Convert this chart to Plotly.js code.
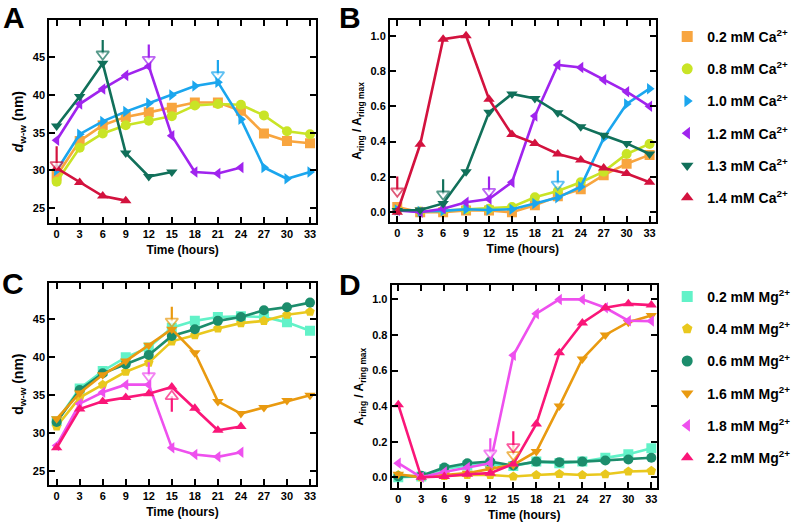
<!DOCTYPE html>
<html>
<head>
<meta charset="utf-8">
<script src="https://cdn.plot.ly/plotly-3.0.1.min.js"></script>
<style>html,body{margin:0;padding:0;background:#fff;}#chart{width:800px;height:526px;}</style>
</head>
<body>
<div id="chart"></div>
<script>
// ---------- data ----------
const hours = [0,3,6,9,12,15,18,21,24,27,30,33];
const tickHours = [0,3,6,9,12,15,18,21,24,27,30,33];

const caNames = ['0.2 mM Ca<sup>2+</sup>','0.8 mM Ca<sup>2+</sup>','1.0 mM Ca<sup>2+</sup>','1.2 mM Ca<sup>2+</sup>','1.3 mM Ca<sup>2+</sup>','1.4 mM Ca<sup>2+</sup>'];
const mgNames = ['0.2 mM Mg<sup>2+</sup>','0.4 mM Mg<sup>2+</sup>','0.6 mM Mg<sup>2+</sup>','1.6 mM Mg<sup>2+</sup>','1.8 mM Mg<sup>2+</sup>','2.2 mM Mg<sup>2+</sup>'];

// Panel A: d_w-w (nm), Ca2+
const caA_02 = [29.3,33.9,36.0,37.1,37.7,38.3,39.0,39.0,37.9,34.9,33.9,33.6];
const caA_08 = [28.5,33.0,34.9,36.0,36.6,37.2,38.6,38.8,38.7,37.3,35.2,34.8];
const caA_10 = [30.0,34.8,36.5,37.8,38.9,40.0,41.2,41.7,36.8,30.4,28.9,29.8];
const caA_12 = [34.0,38.8,40.8,42.6,43.8,34.6,29.8,29.6,30.4];
const caA_13 = [35.9,39.8,44.2,32.3,29.2,29.8];
const caA_14 = [30.3,28.4,26.6,26.0];

// Panel B: A_ring / A_ring max, Ca2+
const caB_02 = [0.03,0.0,0.0,0.01,0.01,0.0,0.04,0.09,0.13,0.21,0.275,0.325];
const caB_08 = [0.013,0.004,0.01,0.017,0.02,0.03,0.085,0.12,0.17,0.23,0.33,0.387];
const caB_10 = [0.013,0.004,0.008,0.017,0.013,0.017,0.05,0.083,0.145,0.42,0.613,0.70];
const caB_12 = [0.01,0.0,0.02,0.057,0.075,0.17,0.545,0.834,0.82,0.75,0.683,0.60];
const caB_13 = [0.01,0.013,0.05,0.23,0.566,0.67,0.645,0.564,0.485,0.436,0.39,0.33];
const caB_14 = [0.0,0.385,0.98,1.0,0.64,0.44,0.39,0.33,0.296,0.25,0.22,0.17];

// Panel C: d_w-w (nm), Mg2+
const mgC_02 = [31.6,35.9,38.2,40.0,41.3,43.9,44.8,45.3,45.4,45.3,44.6,43.5];
const mgC_04 = [30.9,34.7,36.4,38.1,39.3,42.1,42.9,43.8,44.5,44.8,45.6,46.0];
const mgC_06 = [31.5,35.7,37.9,39.1,40.3,42.8,43.7,44.8,45.3,46.2,46.6,47.2];
const mgC_16 = [31.9,35.3,37.7,39.5,41.6,43.7,40.6,34.2,32.6,33.4,34.3,35.0];
const mgC_18 = [28.4,33.9,35.4,36.4,36.4,28.1,27.2,26.9,27.5];
const mgC_22 = [28.1,33.2,34.2,34.7,35.2,36.1,33.3,30.4,30.9];

// Panel D: A_ring / A_ring max, Mg2+
const mgD_02 = [0.0,0.004,0.047,0.066,0.073,0.064,0.088,0.079,0.088,0.11,0.13,0.163];
const mgD_04 = [0.013,0.0,0.008,0.013,0.013,0.004,0.013,0.019,0.013,0.017,0.032,0.036];
const mgD_06 = [0.004,0.008,0.055,0.079,0.088,0.066,0.088,0.085,0.088,0.094,0.10,0.11];
const mgD_16 = [0.017,0.0,0.013,0.023,0.047,0.07,0.145,0.40,0.665,0.80,0.872,0.91];
const mgD_18 = [0.079,0.0,0.03,0.055,0.079,0.686,0.92,1.0,1.0,0.953,0.88,0.878];
const mgD_22 = [0.408,0.0,0.004,0.017,0.023,0.075,0.30,0.70,0.868,0.953,0.975,0.968];

// Arrows (x, shaft end, head centre, colour index, direction)
const arrA_x = [0,6,12,21];   const arrA_end = [33.2,47.3,46.7,44.65]; const arrA_head = [30.75,45.4,44.7,42.65]; const arrA_c = [5,4,3,2];
const arrB_x = [0,6,12,21];   const arrB_end = [0.202,0.187,0.202,0.236]; const arrB_head = [0.119,0.102,0.117,0.158]; const arrB_c = [5,4,3,2];
const arrC_x = [15,12,15];    const arrC_end = [46.67,39.34,32.85]; const arrC_head = [44.74,37.54,34.87]; const arrC_c = [3,4,5]; const arrC_dir = ['down','down','up'];
const arrD_x = [15,12,15];    const arrD_end = [0.19,0.22,0.258]; const arrD_head = [0.126,0.135,0.171]; const arrD_c = [3,4,5];

// ---------- styles ----------
const caColors = ['#F8A53F','#C9E426','#1BA6EE','#A024EE','#11705A','#D3123E'];
const caSymbols = ['square','circle','triangle-right','triangle-left','triangle-down','triangle-up'];
const mgColors = ['#62F2C8','#E9C81E','#1C8D6C','#E99A10','#EE50EE','#FA1678'];
const mgSymbols = ['square','pentagon','circle','triangle-down','triangle-left','triangle-up'];

const FONT = 'Liberation Sans, Arial, Helvetica, sans-serif';
const traces = [];

function series(xs, ys, color, symbol, xa, ya) {
  traces.push({
    x: xs.slice(0, ys.length), y: ys, xaxis: xa, yaxis: ya,
    mode: 'lines+markers', showlegend: false, hoverinfo: 'skip',
    line: {color: color, width: 2.6},
    marker: {color: color, symbol: symbol, size: 10, line: {width: 0}}
  });
}
function legendItem(name, color, symbol, leg) {
  traces.push({
    x: [null], y: [null], name: name, mode: 'markers', legend: leg,
    legendgroup: name, xaxis: 'x', yaxis: 'y',
    marker: {color: color, symbol: symbol, size: 11, line: {width: 0}}
  });
}
function arrow(x, yEnd, yHead, color, dir, xa, ya) {
  traces.push({
    x: [x, x], y: [yEnd, yHead], xaxis: xa, yaxis: ya,
    mode: 'lines+markers', showlegend: false, hoverinfo: 'skip',
    line: {color: color, width: 2.2},
    marker: {size: [0, 11], symbol: dir === 'up' ? 'triangle-up' : 'triangle-down',
             color: '#ffffff', line: {color: color, width: 1.8}}
  });
}

const caA = [caA_02,caA_08,caA_10,caA_12,caA_13,caA_14];
const caB = [caB_02,caB_08,caB_10,caB_12,caB_13,caB_14];
const mgC = [mgC_02,mgC_04,mgC_06,mgC_16,mgC_18,mgC_22];
const mgD = [mgD_02,mgD_04,mgD_06,mgD_16,mgD_18,mgD_22];

caA.forEach((ys,i) => series(hours, ys, caColors[i], caSymbols[i], 'x', 'y'));
caB.forEach((ys,i) => series(hours, ys, caColors[i], caSymbols[i], 'x2', 'y2'));
mgC.forEach((ys,i) => series(hours, ys, mgColors[i], mgSymbols[i], 'x3', 'y3'));
mgD.forEach((ys,i) => series(hours, ys, mgColors[i], mgSymbols[i], 'x4', 'y4'));

arrA_x.forEach((x,i) => arrow(x, arrA_end[i], arrA_head[i], caColors[arrA_c[i]], 'down', 'x', 'y'));
arrB_x.forEach((x,i) => arrow(x, arrB_end[i], arrB_head[i], caColors[arrB_c[i]], 'down', 'x2', 'y2'));
arrC_x.forEach((x,i) => arrow(x, arrC_end[i], arrC_head[i], mgColors[arrC_c[i]], arrC_dir[i], 'x3', 'y3'));
arrD_x.forEach((x,i) => arrow(x, arrD_end[i], arrD_head[i], mgColors[arrD_c[i]], 'down', 'x4', 'y4'));

caNames.forEach((n,i) => legendItem(n, caColors[i], caSymbols[i], 'legend'));
mgNames.forEach((n,i) => legendItem(n, mgColors[i], mgSymbols[i], 'legend2'));

// ---------- layout ----------
const tickFont = {family: FONT, size: 11, color: '#000', weight: 'bold'};
const titleFont = {family: FONT, size: 12, color: '#000', weight: 'bold'};
const dTitleFont = {family: FONT, size: 14, color: '#000', weight: 'bold'};
function xax(domain, range, anchor) {
  return {domain: domain, range: range, anchor: anchor, tickvals: tickHours,
    ticks: 'inside', ticklen: 6, tickwidth: 2, tickcolor: '#000',
    showline: true, linewidth: 2, linecolor: '#000', mirror: 'ticks',
    showgrid: false, zeroline: false, tickfont: tickFont,
    title: {text: 'Time (hours)', font: titleFont, standoff: 6}};
}
function yax(domain, range, anchor, tv, fmt, title, tf) {
  return {domain: domain, range: range, anchor: anchor, tickvals: tv, tickformat: fmt,
    ticks: 'inside', ticklen: 6, tickwidth: 2, tickcolor: '#000',
    showline: true, linewidth: 2, linecolor: '#000', mirror: 'ticks',
    showgrid: false, zeroline: false, tickfont: tickFont,
    title: {text: title, font: tf, standoff: 6}};
}
const dTicks = [25,30,35,40,45];
const rTicks = [0,0.2,0.4,0.6,0.8,1.0];

const legendFont = {family: FONT, size: 14, color: '#000', weight: 'bold'};
const layout = {
  width: 800, height: 526,
  margin: {l: 0, r: 0, t: 0, b: 0},
  paper_bgcolor: '#fff', plot_bgcolor: '#fff',
  font: {family: FONT, color: '#000'},
  xaxis:  xax([0.0616, 0.395], [-0.96, 33.78], 'y'),
  yaxis:  yax([0.5755, 0.962], [23.0, 49.94], 'x', dTicks, '', '<i>d</i><sub>w-w</sub> (nm)', dTitleFont),
  xaxis2: xax([0.4875, 0.8196], [-0.95, 33.8], 'y2'),
  yaxis2: yax([0.578, 0.962], [-0.055, 1.089], 'x2', rTicks, '.1f', 'A<sub>ring</sub> / A<sub>ring max</sub>', titleFont),
  xaxis3: xax([0.0616, 0.3946], [-0.96, 33.74], 'y3'),
  yaxis3: yax([0.078, 0.4614], [23.2, 49.74], 'x3', dTicks, '', 'd<sub>w-w</sub> (nm)', dTitleFont),
  xaxis4: xax([0.4896, 0.8209], [-0.86, 33.7], 'y4'),
  yaxis4: yax([0.0717, 0.4582], [-0.062, 1.081], 'x4', rTicks, '.1f', 'A<sub>ring</sub> / A<sub>ring max</sub>', titleFont),
  legend: {x: 0.834, xanchor: 'left', y: 1 - 21/526, yanchor: 'top',
    font: legendFont, tracegroupgap: 11, bgcolor: 'rgba(0,0,0,0)', traceorder: 'grouped'},
  legend2: {x: 0.834, xanchor: 'left', y: 1 - 281/526, yanchor: 'top',
    font: legendFont, tracegroupgap: 11, bgcolor: 'rgba(0,0,0,0)', traceorder: 'grouped'},
  annotations: [
    {text: 'A', x: 14/800, y: 1 - 18/526},
    {text: 'B', x: 350/800, y: 1 - 18/526},
    {text: 'C', x: 13/800, y: 1 - 283/526},
    {text: 'D', x: 350/800, y: 1 - 284/526}
  ].map(a => Object.assign(a, {xref: 'paper', yref: 'paper', showarrow: false,
    xanchor: 'center', yanchor: 'middle',
    font: {family: FONT, size: 30, color: '#000', weight: 'bold'}}))
};

Plotly.newPlot('chart', traces, layout, {staticPlot: true, displayModeBar: false});
</script>
</body>
</html>
